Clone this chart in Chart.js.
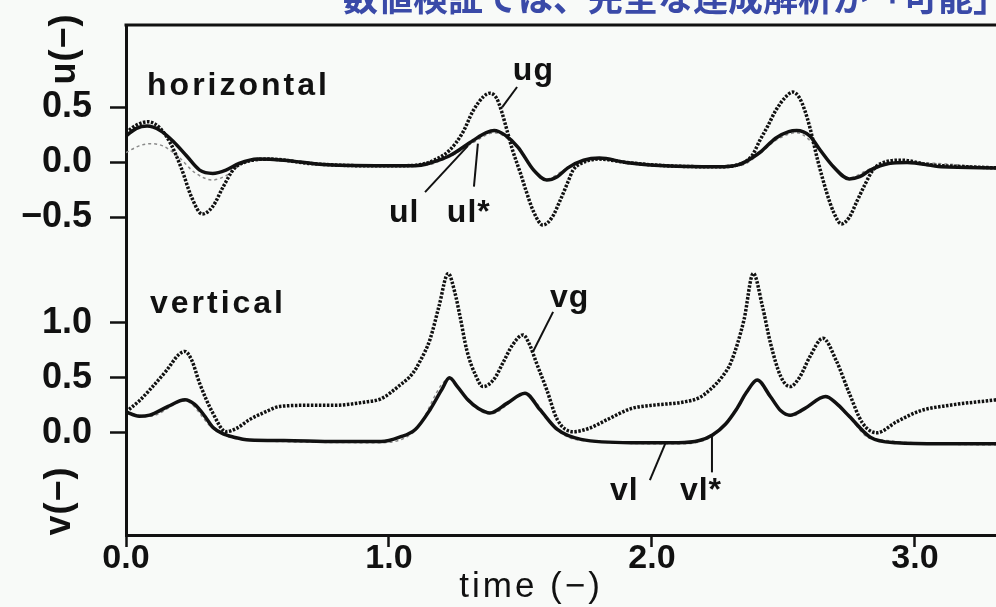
<!DOCTYPE html>
<html>
<head>
<meta charset="utf-8">
<script src="https://cdn.jsdelivr.net/npm/chart.js@4.4.1/dist/chart.umd.min.js"></script>
<style>
html,body{margin:0;padding:0;background:#f8faf8;}
#wrap{position:relative;width:996px;height:607px;overflow:hidden;}
#head{position:absolute;right:-12px;top:-22px;font:bold 35px 'Noto Sans CJK JP';color:#3a4aa8;white-space:nowrap;line-height:36px;}
canvas{position:absolute;left:0;top:0;}
</style>
</head>
<body>
<div id="wrap">
<canvas id="cnv" width="996" height="607"></canvas>
<div id="head">数値検証では、完全な連成解析が「可能」</div>
</div>
<script>
(function(){

    var FONT = "'Liberation Sans', Arial, sans-serif";
    var INK = '#111';

    // horizontal panel, u(-)
    var ugTime = [0.00,0.04,0.085,0.13,0.17,0.21,0.25,0.29,0.33,0.37,0.41,0.45,0.55,0.70,0.90,1.05,1.12,1.18,1.23,1.28,1.32,1.36,1.384,1.41,1.43,1.45,1.47,1.50,1.52,1.55,1.585,1.62,1.65,1.68,1.70,1.73,1.80,1.90,2.05,2.25,2.33,2.38,2.41,2.44,2.47,2.51,2.536,2.56,2.58,2.60,2.63,2.665,2.69,2.72,2.75,2.78,2.81,2.84,2.87,2.95,3.05,3.20,3.31];
    var ugVal  = [0.27,0.34,0.37,0.31,0.17,-0.05,-0.32,-0.47,-0.40,-0.22,-0.06,0.00,0.03,-0.01,-0.03,-0.03,-0.02,0.03,0.11,0.27,0.47,0.60,0.63,0.58,0.45,0.28,0.11,-0.10,-0.25,-0.45,-0.57,-0.50,-0.35,-0.18,-0.07,-0.01,0.03,0.00,-0.03,-0.04,-0.02,0.06,0.20,0.33,0.47,0.60,0.64,0.59,0.48,0.32,0.02,-0.28,-0.45,-0.56,-0.50,-0.35,-0.20,-0.07,-0.01,0.02,-0.02,-0.04,-0.05];

    var ulTime = [0.00,0.04,0.08,0.13,0.18,0.23,0.28,0.33,0.38,0.43,0.50,0.60,0.75,0.95,1.10,1.15,1.23,1.32,1.37,1.40,1.44,1.49,1.55,1.60,1.64,1.68,1.74,1.80,1.90,2.05,2.25,2.33,2.41,2.47,2.52,2.55,2.60,2.64,2.69,2.75,2.79,2.83,2.90,2.97,3.10,3.31];
    var ulVal  = [0.24,0.31,0.33,0.29,0.19,0.06,-0.07,-0.10,-0.07,-0.01,0.03,0.02,-0.02,-0.03,-0.03,-0.01,0.06,0.20,0.27,0.29,0.25,0.14,-0.07,-0.16,-0.13,-0.05,0.02,0.04,0.00,-0.03,-0.04,-0.02,0.09,0.22,0.28,0.29,0.24,0.11,-0.04,-0.15,-0.13,-0.07,-0.01,0.00,-0.04,-0.05];

    var ulsTime = [0.00,0.05,0.09,0.14,0.20,0.26,0.33,0.38,0.45,0.55,0.70,0.90,1.12,1.23,1.32,1.40,1.49,1.55,1.60,1.68,1.80,2.05,2.33,2.41,2.47,2.55,2.64,2.69,2.75,2.83,2.97,3.31];
    var ulsVal  = [0.09,0.15,0.17,0.15,0.05,-0.09,-0.16,-0.12,0.00,0.02,-0.01,-0.03,-0.03,0.05,0.18,0.27,0.13,-0.06,-0.15,-0.05,0.03,-0.03,-0.03,0.08,0.20,0.27,0.10,-0.04,-0.14,-0.06,0.00,-0.05];

    // vertical panel, v(-)
    var vgTime = [0.00,0.05,0.09,0.155,0.20,0.224,0.25,0.28,0.33,0.38,0.42,0.47,0.53,0.585,0.70,0.79,0.91,0.97,1.04,1.09,1.12,1.156,1.19,1.225,1.25,1.27,1.296,1.33,1.357,1.40,1.434,1.47,1.51,1.535,1.56,1.60,1.64,1.70,1.76,1.83,1.92,2.00,2.12,2.18,2.22,2.27,2.30,2.35,2.385,2.42,2.45,2.49,2.525,2.56,2.60,2.65,2.70,2.75,2.80,2.855,2.93,3.02,3.13,3.31];
    var vgVal  = [0.19,0.29,0.39,0.57,0.71,0.74,0.66,0.45,0.18,0.01,0.04,0.12,0.19,0.24,0.25,0.25,0.28,0.31,0.43,0.54,0.66,0.85,1.15,1.45,1.28,1.06,0.75,0.52,0.42,0.49,0.64,0.80,0.89,0.80,0.64,0.39,0.12,0.01,0.04,0.12,0.22,0.25,0.28,0.32,0.39,0.52,0.64,1.03,1.45,1.15,0.82,0.51,0.42,0.50,0.69,0.86,0.66,0.36,0.09,0.00,0.10,0.20,0.25,0.30];

    var vlTime = [0.00,0.05,0.09,0.16,0.224,0.26,0.30,0.33,0.37,0.41,0.47,0.60,0.80,0.97,1.04,1.10,1.156,1.20,1.23,1.26,1.30,1.34,1.384,1.45,1.517,1.574,1.64,1.73,1.92,2.10,2.18,2.23,2.28,2.32,2.36,2.40,2.45,2.49,2.525,2.58,2.66,2.70,2.75,2.83,2.93,3.10,3.31];
    var vlVal  = [0.19,0.15,0.16,0.24,0.30,0.26,0.15,0.05,-0.01,-0.04,-0.065,-0.07,-0.08,-0.08,-0.04,0.03,0.21,0.39,0.50,0.42,0.30,0.22,0.18,0.27,0.36,0.21,0.03,-0.06,-0.09,-0.09,-0.07,-0.02,0.08,0.21,0.37,0.48,0.33,0.20,0.16,0.22,0.33,0.27,0.15,-0.04,-0.09,-0.10,-0.10];

    var vlsTime = [0.00,0.09,0.224,0.33,0.41,0.60,0.97,1.10,1.23,1.30,1.384,1.517,1.64,1.73,2.10,2.23,2.32,2.40,2.45,2.525,2.66,2.75,2.83,3.31];
    var vlsVal  = [0.18,0.15,0.29,0.04,-0.05,-0.08,-0.09,0.02,0.49,0.29,0.17,0.35,0.02,-0.07,-0.10,-0.03,0.20,0.47,0.32,0.15,0.32,0.14,-0.05,-0.11];

    var timeTicks = [0, 1, 2, 3];
    var uTicks = [-0.5, 0, 0.5];
    var vTicks = [0, 0.5, 1.0];

    function pts(t, v){
        return t.map(function(x, i){ return {x: x, y: v[i]}; });
    }
    function fmt(v){
        return (v < 0 ? '\u2212' : '') + Math.abs(v).toFixed(1);
    }

    // annotation texts and leader lines, placed in data coordinates
    var notes = [
        {text: 'horizontal', axis: 'yu', t: 0.08,  v: 0.61,  sp: 3},
        {text: 'vertical',   axis: 'yv', t: 0.091, v: 1.09,  sp: 3},
        {text: 'ug',         axis: 'yu', t: 1.471, v: 0.75,  sp: 1},
        {text: 'ul',         axis: 'yu', t: 1.0,   v: -0.54, sp: 1},
        {text: 'ul*',        axis: 'yu', t: 1.22,  v: -0.54, sp: 1},
        {text: 'vg',         axis: 'yv', t: 1.612, v: 1.145, sp: 1},
        {text: 'vl',         axis: 'yv', t: 1.84,  v: -0.61, sp: 1},
        {text: 'vl*',        axis: 'yv', t: 2.106, v: -0.61, sp: 1}
    ];
    var leaders = [
        {axis: 'yu', a: [1.487, 0.686], b: [1.43, 0.50]},
        {axis: 'yu', a: [1.137, -0.27], b: [1.30, 0.15]},
        {axis: 'yu', a: [1.323, -0.22], b: [1.338, 0.17]},
        {axis: 'yv', a: [1.624, 1.10],  b: [1.548, 0.74]},
        {axis: 'yv', a: [1.992, -0.43], b: [2.05, -0.10]},
        {axis: 'yv', a: [2.228, -0.36], b: [2.228, -0.03]}
    ];

    var deco = {
        id: 'deco',
        afterDatasetsDraw: function(chart){
            var ctx = chart.ctx, a = chart.chartArea, x = chart.scales.x;
            ctx.save();
            ctx.strokeStyle = INK;
            ctx.lineWidth = 3;
            ctx.beginPath();
            ctx.moveTo(a.left - 1.5, a.top);
            ctx.lineTo(a.right, a.top);
            ctx.stroke();

            ctx.lineWidth = 2;
            leaders.forEach(function(l){
                var y = chart.scales[l.axis];
                ctx.beginPath();
                ctx.moveTo(x.getPixelForValue(l.a[0]), y.getPixelForValue(l.a[1]));
                ctx.lineTo(x.getPixelForValue(l.b[0]), y.getPixelForValue(l.b[1]));
                ctx.stroke();
            });

            ctx.fillStyle = INK;
            ctx.textBaseline = 'alphabetic';
            ctx.textAlign = 'left';
            ctx.font = 'bold 32px ' + FONT;
            notes.forEach(function(n){
                var y = chart.scales[n.axis];
                ctx.letterSpacing = n.sp + 'px';
                ctx.fillText(n.text, x.getPixelForValue(n.t), y.getPixelForValue(n.v));
            });

            // axis titles
            ctx.letterSpacing = '3px';
            ctx.font = '35px ' + FONT;
            ctx.textAlign = 'center';
            ctx.fillText('time (\u2212)', x.getPixelForValue(1.54), 597);

            ctx.letterSpacing = '1px';
            ctx.font = 'bold 36px ' + FONT;
            ctx.textBaseline = 'middle';
            [['u(\u2212)', 65, a.top + 24], ['v(\u2212)', 60, a.bottom - 34]].forEach(function(s){
                ctx.save();
                ctx.translate(s[1], s[2]);
                ctx.rotate(-Math.PI / 2);
                ctx.fillText(s[0], 0, 0);
                ctx.restore();
            });
            ctx.restore();
        }
    };

    function yAxis(ticks, min, max, weight){
        return {
            type: 'linear', position: 'left', stack: 'uv', stackWeight: weight,
            min: min, max: max,
            afterBuildTicks: function(s){ s.ticks = ticks.map(function(v){ return {value: v}; }); },
            afterFit: function(s){ s.width = 126; s.paddingTop = 0; s.paddingBottom = 0; },
            ticks: {color: INK, padding: 18, font: {family: FONT, size: 36, weight: 'bold'}, callback: fmt},
            grid: {drawOnChartArea: false, tickLength: 16, tickWidth: 2.5, tickColor: INK},
            border: {color: INK, width: 3}
        };
    }

    var dotted = {borderColor: INK, borderWidth: 3.5, borderDash: [2.5, 1.5], pointRadius: 0, cubicInterpolationMode: 'monotone'};
    var solid  = {borderColor: INK, borderWidth: 3.5, pointRadius: 0, cubicInterpolationMode: 'monotone'};
    var thin   = {borderColor: '#8a8a8a', borderWidth: 1.5, borderDash: [3, 3], pointRadius: 0, cubicInterpolationMode: 'monotone'};

    var data = {
        datasets: [
            Object.assign({label: 'ug',  data: pts(ugTime, ugVal),   yAxisID: 'yu'}, dotted),
            Object.assign({label: 'ul',  data: pts(ulTime, ulVal),   yAxisID: 'yu'}, solid),
            Object.assign({label: 'vg',  data: pts(vgTime, vgVal),   yAxisID: 'yv'}, dotted),
            Object.assign({label: 'vl',  data: pts(vlTime, vlVal),   yAxisID: 'yv'}, solid),
            Object.assign({label: 'ul*', data: pts(ulsTime, ulsVal), yAxisID: 'yu'}, thin),
            Object.assign({label: 'vl*', data: pts(vlsTime, vlsVal), yAxisID: 'yv'}, thin)
        ]
    };

    var myChart = new Chart(document.getElementById('cnv'), {
        type: 'line',
        data: data,
        plugins: [deco],
        options: {
            responsive: false,
            animation: false,
            devicePixelRatio: 1,
            layout: {padding: {top: 25, right: 0, left: 0, bottom: 0}},
            plugins: {legend: {display: false}, tooltip: {enabled: false}},
            scales: {
                x: {
                    type: 'linear', min: 0, max: 3.308,
                    afterBuildTicks: function(s){ s.ticks = timeTicks.map(function(v){ return {value: v}; }); },
                    afterFit: function(s){ s.height = 72; s.paddingLeft = 0; s.paddingRight = 0; },
                    ticks: {color: INK, padding: -9, maxRotation: 0, font: {family: FONT, size: 34, weight: 'bold'}, callback: fmt},
                    grid: {drawOnChartArea: false, tickLength: 12, tickWidth: 2.5, tickColor: INK},
                    border: {color: INK, width: 3}
                },
                yv: yAxis(vTicks, -0.93, 1.71, 2.64),
                yu: yAxis(uTicks, -0.75, 1.25, 2.0)
            }
        }
    });

})();
</script>
</body>
</html>
